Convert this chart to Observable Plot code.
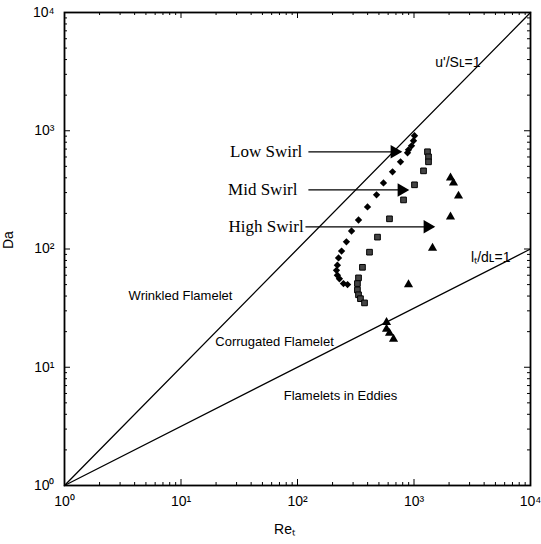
<!DOCTYPE html>
<html><head><meta charset="utf-8">
<script src="https://cdn.jsdelivr.net/npm/d3@7"></script>
<script src="https://cdn.jsdelivr.net/npm/@observablehq/plot@0.6"></script>
<style>body{margin:0;background:#fff}</style>
</head><body><div id="chart"></div>
<script>
// Data
const lowSwirlRe = [1010, 990, 952, 897, 880, 766, 654, 547, 477, 399, 334, 291, 263, 239, 225, 220, 216, 220, 229, 248, 269];
const lowSwirlDa = [907, 823, 746, 690, 651, 546, 449, 362, 287, 227, 176, 142, 115, 96, 84, 73, 66, 60, 56, 51, 50];
const midSwirlRe = [1306, 1332, 1332, 1207, 1010, 813, 616, 486, 415, 361, 334, 327, 327, 334, 347, 376];
const midSwirlDa = [664, 602, 546, 458, 349, 260, 180, 126, 94, 70, 57, 51, 45, 41, 38, 35];
const highSwirlRe = [2057, 2183, 2410, 2057, 1442, 897, 581, 581, 616, 667];
const highSwirlDa = [400, 362, 281, 187, 102, 50, 24, 21, 19.4, 17.3];

// Regime boundary lines
const boundaryRe = [1, 10000];
const uSlDa = [1, 10000];   // u'/SL = 1
const ltDlDa = [1, 100];    // lt/dL = 1

// Tick values
const majorTicks = [1, 10, 100, 1000, 10000];
const majorLabels = ["10⁰", "10¹", "10²", "10³", "10⁴"];
const minorTicks = [1, 10, 100, 1000].flatMap(d => [2,3,4,5,6,7,8,9].map(k => d * k));

// Arrow annotations
const arrowNames = ["Low Swirl", "Mid Swirl", "High Swirl"];
const arrowStartRe = [124, 124, 117];
const arrowTipRe = [766, 880, 1470];
const arrowDa = [664, 316, 154];
const arrowLabelRe = [110, 100, 113];

const pts = (xs, ys) => xs.map((x, i) => ({Re: x, Da: ys[i]}));
const arrows = arrowNames.map((n, i) => ({name: n, x1: arrowStartRe[i], x2: arrowTipRe[i], y: arrowDa[i], xl: arrowLabelRe[i]}));

const W = 541, H = 544, ML = 64, MR = 11, MT = 12, MB = 59;
const FW = W - ML - MR, FH = H - MT - MB;
const sans = "'Liberation Sans', Arial, sans-serif";
const serif = "'Liberation Serif', 'Times New Roman', serif";

const chart = Plot.plot({
  width: W, height: H,
  marginLeft: ML, marginRight: MR, marginTop: MT, marginBottom: MB,
  style: {fontFamily: sans, fontSize: "14px", background: "white", color: "black"},
  x: {type: "log", domain: [1, 10000], axis: null},
  y: {type: "log", domain: [1, 10000], axis: null},
  marks: [
    // ticks inward on all sides
    Plot.tickX(minorTicks, {x: d => d, insetTop: FH - 3, stroke: "black"}),
    Plot.tickX(minorTicks, {x: d => d, insetBottom: FH - 3, stroke: "black"}),
    Plot.tickY(minorTicks, {y: d => d, insetRight: FW - 3, stroke: "black"}),
    Plot.tickY(minorTicks, {y: d => d, insetLeft: FW - 3, stroke: "black"}),
    Plot.tickX(majorTicks, {x: d => d, insetTop: FH - 6, stroke: "black"}),
    Plot.tickX(majorTicks, {x: d => d, insetBottom: FH - 6, stroke: "black"}),
    Plot.tickY(majorTicks, {y: d => d, insetRight: FW - 6, stroke: "black"}),
    Plot.tickY(majorTicks, {y: d => d, insetLeft: FW - 6, stroke: "black"}),
    Plot.frame({stroke: "black", strokeWidth: 1.8}),
    Plot.axisX(majorTicks, {tickSize: 0, tickPadding: 11, tickFormat: d => majorLabels[majorTicks.indexOf(d)], fontSize: 14}),
    Plot.axisY(majorTicks, {tickSize: 0, tickPadding: 10, tickFormat: d => majorLabels[majorTicks.indexOf(d)], fontSize: 14, label: null}),
    Plot.text(["Da"], {frameAnchor: "left", dx: -56, rotate: -90, fontSize: 14}),
    Plot.text(["Reₜ"], {frameAnchor: "bottom", dy: 48, dx: -13, fontSize: 14}),
    // boundary lines
    Plot.line(pts(boundaryRe, uSlDa), {x: "Re", y: "Da", stroke: "black", strokeWidth: 1.3}),
    Plot.line(pts(boundaryRe, ltDlDa), {x: "Re", y: "Da", stroke: "black", strokeWidth: 1.3}),
    // data
    Plot.dot(pts(lowSwirlRe, lowSwirlDa), {x: "Re", y: "Da", symbol: "diamond2", r: 3.3, fill: "black", stroke: "none"}),
    Plot.dot(pts(midSwirlRe, midSwirlDa), {x: "Re", y: "Da", symbol: "square", r: 3.2, fill: "#444", stroke: "black", strokeWidth: 1}),
    Plot.dot(pts(highSwirlRe, highSwirlDa), {x: "Re", y: "Da", symbol: "triangle", r: 3.4, fill: "black", stroke: "none"}),
    // arrows
    Plot.link(arrows, {x1: "x1", x2: "x2", y1: "y", y2: "y", stroke: "black", strokeWidth: 1.3}),
    Plot.dot(arrows, {x: "x2", y: "y", symbol: "triangle", rotate: 90, r: 5, fill: "black", stroke: "none", dx: -6}),
    Plot.text(arrows, {x: "xl", y: "y", text: "name", textAnchor: "end", fontFamily: serif, fontSize: 17, fill: "black"}),
    // regime labels
    Plot.text(["Wrinkled Flamelet"], {x: 9.9, y: 40, fontSize: 13}),
    Plot.text(["Corrugated Flamelet"], {x: 63.5, y: 16.3, fontSize: 13}),
    Plot.text(["Flamelets in Eddies"], {x: 234, y: 5.7, fontSize: 13}),
    Plot.text(["u'/Sʟ=1"], {x: 3724, y: 3770, textAnchor: "end", fontSize: 14}),
    Plot.text(["lₜ/dʟ=1"], {x: 6730, y: 85.5, textAnchor: "end", fontSize: 14})
  ]
});
document.getElementById("chart").appendChild(chart);
</script>
</body></html>
